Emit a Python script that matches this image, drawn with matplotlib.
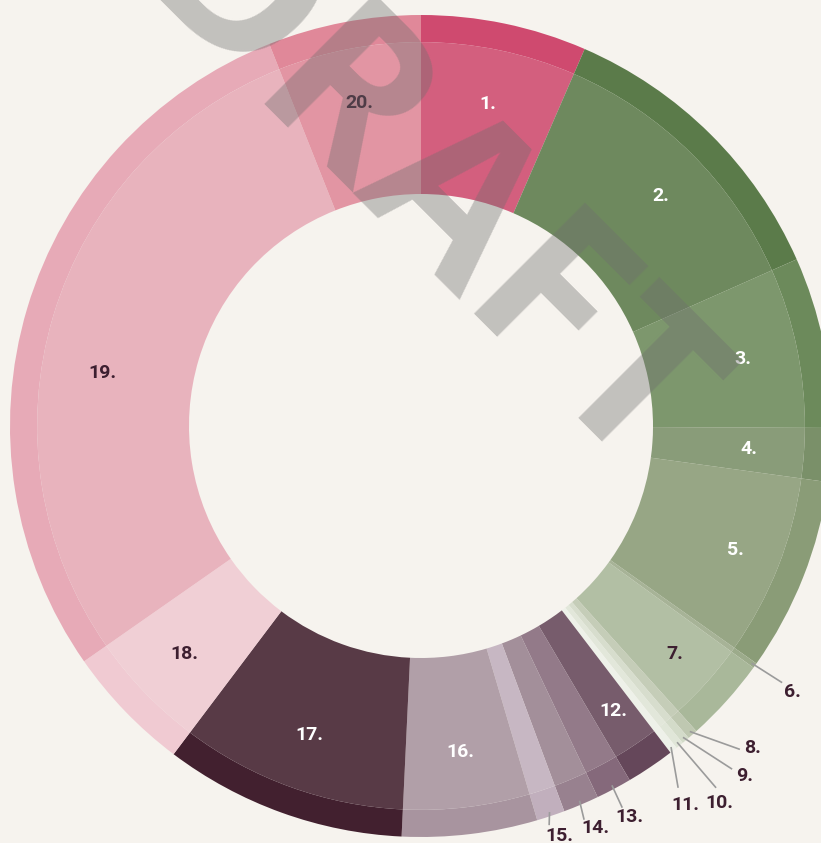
import numpy as np
import matplotlib
matplotlib.use("Agg")
import matplotlib.pyplot as plt

# share of each category (%), clockwise from 12 o'clock
labels = [f"{i}." for i in range(1, 21)]
shares = [6.5, 11.8, 6.7, 2.1, 7.6, 0.2, 3.3, 0.4, 0.3, 0.3,
          0.3, 1.9, 1.4, 1.4, 1.1, 5.3, 9.5, 5.0, 28.6, 6.0]

# outer-band colours; the main ring uses the same colour slightly faded
colors = ['#CF4A6F', '#5B7B4A', '#6C8A5B', '#7A9069', '#8A9C77',
          '#9CAB8B', '#A9B89A', '#BFC8B1', '#D3DBC9', '#E0E6D8',
          '#EEF1E9', '#65475A', '#85697B', '#98818F', '#C1AFBD',
          '#A8949F', '#42202F', '#F0CAD2', '#E7AAB7', '#E08899']

white_text = {1, 2, 3, 4, 5, 12, 16, 17}
outside = [6, 8, 9, 10, 11, 13, 14, 15]
# small nudges for some inner labels: (radius, angle shift)
nudge = {2: (0.808, 1.5), 5: (0.822, 0), 7: (0.83, 0), 12: (0.837, 0),
         19: (0.785, -7.3)}
# leader line end / label position (radius, angle clockwise from top)
line_r = [1.078, 1.105, 1.127, 1.136, 1.08, 1.05, 1.037, 1.02]
line_a = [125.4, 135.4, 137.8, 140.8, 144.6, 152.2, 157.5, 162.2]
lab_r = [1.112, 1.125, 1.16, 1.17, 1.124, 1.078, 1.066, 1.053]
lab_a = [125.6, 134.1, 137.2, 141.6, 145.1, 151.9, 156.6, 161.3]

bg = '#F6F3EE'
dark = '#3D1F30'

W, H = 821, 843
cx, cy, R = 421, 426, 411

fig = plt.figure(figsize=(W / 100, H / 100), dpi=100, facecolor=bg)
ax = fig.add_axes([0, 0, 1, 1])
ax.set_facecolor(bg)

band = 0.066
inner = 232 / R
ax.pie(shares, radius=1.0, startangle=90, counterclock=False, colors=colors,
       wedgeprops=dict(width=band, linewidth=0))
ax.pie(shares, radius=1.0 - band, startangle=90, counterclock=False,
       colors=colors,
       wedgeprops=dict(width=1.0 - band - inner, linewidth=0, alpha=0.88))

ax.set_xlim(-cx / R, (W - cx) / R)
ax.set_ylim(-(H - cy) / R, cy / R)
ax.axis('off')

lab_font = ['Roboto', 'DejaVu Sans']
mark_font = ['Open Sans', 'DejaVu Sans']

def pol(r, a):
    t = np.deg2rad(a)
    return r * np.sin(t), r * np.cos(t)

cum = np.cumsum(shares)
total = cum[-1]
mids = (cum - np.array(shares) / 2) / total * 360

for i, lab in enumerate(labels):
    n = i + 1
    if n in outside:
        continue
    r, da = nudge.get(n, (0.80, 0))
    x, y = pol(r, mids[i] + da)
    ax.text(x, y, lab, ha='center', va='center', fontsize=14, fontweight='bold',
            family=lab_font, color='white' if n in white_text else dark)

for k, n in enumerate(outside):
    x0, y0 = pol(0.99, mids[n - 1])
    x1, y1 = pol(line_r[k], line_a[k])
    ax.plot([x0, x1], [y0, y1], color='#9B9B9B', lw=1.2, solid_capstyle='butt')
    xt, yt = pol(lab_r[k], lab_a[k])
    ax.text(xt, yt, labels[n - 1], ha='center', va='center', fontsize=14,
            fontweight='bold', family=lab_font, color=dark)

# watermark
fig.text(420 / W, 1 - 198 / H, 'DRAFT', rotation=-45, rotation_mode='anchor',
         ha='center', va='center', fontsize=158, fontweight='bold',
         family=mark_font, color='#6E6E6E', alpha=0.38, zorder=10)

fig.savefig('out.png', dpi=100, facecolor=bg)
